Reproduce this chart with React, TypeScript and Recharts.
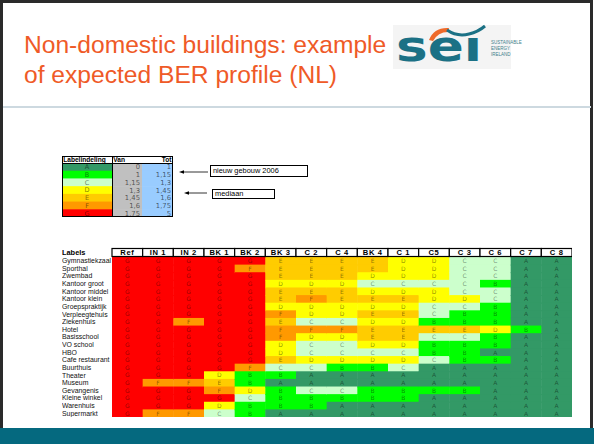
import React from 'react';
import { BarChart, Bar, XAxis, YAxis } from 'recharts';

// ---------- DATA ----------
const columns = ['Ref', 'IN 1', 'IN 2', 'BK 1', 'BK 2', 'BK 3', 'C 2', 'C 4', 'BK 4', 'C 1', 'C5', 'C 3', 'C 6', 'C 7', 'C 8'];
const buildings = [
  'Gymnastiekzaal', 'Sporthal', 'Zwembad', 'Kantoor groot', 'Kantoor middel', 'Kantoor klein',
  'Groepspraktijk', 'Verpleegtehuis', 'Ziekenhuis', 'Hotel', 'Basisschool', 'VO school', 'HBO',
  'Cafe restaurant', 'Buurthuis', 'Theater', 'Museum', 'Gevangenis', 'Kleine winkel', 'Warenhuis', 'Supermarkt',
];
// one string per building, one letter per column
const grades = [
  'GGGGGEEEEDDCCAA',
  'GGGGFEEEEDDCCAA',
  'GGGGGEEEDDDCCAA',
  'GGGGGDDDCCCCBAA',
  'GGGGGEEEDDDCCAA',
  'GGGGGEFEEEDDCAA',
  'GGGGGDDDDDCCBAA',
  'GGGGGFDDEECBBAA',
  'GGFGGECCDDBBBAA',
  'GGGGGFFFEEEEDBA',
  'GGGGGFDDEECCBAA',
  'GGGGGDCCDDBBBAA',
  'GGGGGDCCCCBBAAA',
  'GGGGGEDDDDCBBAA',
  'GGGGFCCBBCAAAAA',
  'GGGDBBAAAAAAAAA',
  'GFFEBAAAAAAAAAA',
  'GGGFDBCCBBBBAAA',
  'GGGGCBBBBBAAAAA',
  'GGGDBBBAAAAAAAA',
  'GFFCBAAAAAAAAAA',
];
const labelClasses = ['A', 'B', 'C', 'D', 'E', 'F', 'G'];
const vanValues = ['0', '1', '1,15', '1,3', '1,45', '1,6', '1,75'];
const totValues = ['1', '1,15', '1,3', '1,45', '1,6', '1,75', '5'];
const legendHeaders = ['Labelindeling', 'Van', 'Tot'];

// ---------- STYLE ----------
const GRADE_COLOR: Record<string, string> = {
  A: '#339966', B: '#00ff00', C: '#ccffcc', D: '#ffff00', E: '#ffcc00', F: '#ff9900', G: '#ff0000',
};
const VAN_FILL = '#c0c0c0';
const TOT_FILL = '#99ccff';
const FONT = 'Liberation Sans, Arial, sans-serif';
const TITLE_COLOR = '#ef5a27';
const TEAL = '#1b7185';

// layout of the heat map chart
const HM_W = 510;
const HM_H = 170;
const HM_YAXIS_W = 50;
const HM_XAXIS_H = 9;
const COL_W = (HM_W - HM_YAXIS_W) / columns.length;

// legend table column spans (layout, not data)
const LEG_SPANS = [50, 30, 31];
const LEG_TOTAL = LEG_SPANS[0] + LEG_SPANS[1] + LEG_SPANS[2];

const heatData = buildings.map((b, i) => {
  const row: any = { building: b };
  columns.forEach((_, j) => {
    row['v' + j] = 1;
    row['g' + j] = grades[i][j];
  });
  return row;
});

const legendData = labelClasses.map((c, i) => ({
  cls: c,
  van: vanValues[i],
  tot: totValues[i],
  s0: LEG_SPANS[0],
  s1: LEG_SPANS[1],
  s2: LEG_SPANS[2],
}));

const HeatCell = (p: any) => {
  const { x, y, width, height, payload, col } = p;
  const g = payload['g' + col];
  return (
    <g>
      <rect x={x} y={y} width={width + 0.5} height={height + 0.5} fill={GRADE_COLOR[g]} />
      <text
        x={x + width / 2}
        y={y + height / 2}
        dy="0.36em"
        textAnchor="middle"
        fontSize={6}
        fontFamily="DejaVu Sans, sans-serif"
        fill="#000"
        fillOpacity={0.45}
      >
        {g}
      </text>
    </g>
  );
};

const HeaderTick = (p: any) => {
  const idx = Math.floor(p.payload.value);
  return (
    <g>
      <rect
        x={p.x - COL_W / 2}
        y={p.y - HM_XAXIS_H + 0.5}
        width={COL_W}
        height={HM_XAXIS_H - 1}
        fill="#fff"
        stroke="#000"
        strokeWidth={1.2}
      />
      <text
        x={p.x}
        y={p.y - 2}
        textAnchor="middle"
        fontSize={7.6}
        fontWeight="bold"
        fontFamily={FONT}
        letterSpacing={0.6}
        fill="#000"
      >
        {columns[idx]}
      </text>
    </g>
  );
};

const RowTick = (p: any) => (
  <text x={p.x - HM_YAXIS_W} y={p.y} dy="0.35em" fontSize={6.9} fontFamily={FONT} fill="#111">
    {p.payload.value}
  </text>
);

const LegendCell = (p: any) => {
  const { x, y, width, height, payload, col } = p;
  if (col === 0) {
    return (
      <g>
        <rect x={x} y={y} width={width + 0.3} height={height + 0.3} fill={GRADE_COLOR[payload.cls]} />
        <text x={x + width / 2} y={y + height / 2} dy="0.36em" textAnchor="middle" fontSize={6.5}
          fontFamily="DejaVu Sans, sans-serif" fill="#000" fillOpacity={0.5}>
          {payload.cls}
        </text>
      </g>
    );
  }
  const txt = col === 1 ? payload.van : payload.tot;
  return (
    <g>
      <rect x={x} y={y} width={width + 0.3} height={height + 0.3} fill={col === 1 ? VAN_FILL : TOT_FILL} />
      <text x={x + width - 2} y={y + height / 2} dy="0.36em" textAnchor="end" fontSize={6.8}
        fontFamily="DejaVu Sans, sans-serif" fill="#000" fillOpacity={0.6}>
        {txt}
      </text>
    </g>
  );
};

const LegendHeaderTick = (p: any) => {
  const i = p.index;
  const anchor = i === 2 ? 'end' : 'start';
  const dx = i === 2 ? -1.5 : 1.2;
  return (
    <text x={p.x + dx} y={p.y - 1.2} textAnchor={anchor} fontSize={6.6} fontWeight="bold"
      fontFamily={FONT} fill="#000">
      {legendHeaders[i]}
    </text>
  );
};

export default function App() {
  return (
    <div style={{ position: 'absolute', left: 0, top: 0, width: 594, height: 444, background: '#fff', overflow: 'hidden', fontFamily: FONT }}>
      {/* slide decorations */}
      <svg width={594} height={444} style={{ position: 'absolute', left: 0, top: 0 }}>
        <rect x={0} y={0} width={594} height={444} fill="#fff" />
        <rect x={1.5} y={1.5} width={590} height={440} fill="none" stroke="#2a2a2a" strokeWidth={3} />
        <line x1={3} y1={107} x2={591} y2={107} stroke="#cdd9e0" strokeWidth={2} />
        <rect x={0} y={428} width={594} height={16} fill="#05697f" />
        {/* title */}
        <text x={24} y={53} fontSize={24.6} fontFamily={FONT} fill={TITLE_COLOR}>Non-domestic buildings: example</text>
        <text x={24} y={83} fontSize={24.6} fontFamily={FONT} fill={TITLE_COLOR}>of expected BER profile (NL)</text>
        {/* logo */}
        <rect x={393} y={25} width={118} height={44} fill="#f4f4f4" />
        <text x={396} y={61} fontSize={42} fontWeight="bold" fontFamily="DejaVu Sans, sans-serif" fill={TEAL}
          textLength={86} lengthAdjust="spacingAndGlyphs">seı</text>
        <path d="M429,40 Q434,27 449,28 L448,32 Q438,32 433,41 Z" fill="#ef6a2a" />
        <path d="M447,30 Q457,37 469,34 Q478,32 485,26" stroke={TEAL} strokeWidth={3} fill="none" />
        <text x={491} y={44} fontSize={4.5} fontFamily={FONT} fill="#3f7f8c">SUSTAINABLE</text>
        <text x={491} y={50} fontSize={4.5} fontFamily={FONT} fill="#3f7f8c">ENERGY</text>
        <text x={491} y={56} fontSize={4.5} fontFamily={FONT} fill="#3f7f8c">IRELAND</text>
        {/* annotation arrows */}
        <line x1={182} y1={172} x2={208} y2={172} stroke="#000" strokeWidth={0.8} />
        <path d="M179,172 L184,170.3 L184,173.7 Z" fill="#000" />
        <line x1={187} y1={193} x2={207} y2={193} stroke="#000" strokeWidth={0.8} />
        <path d="M184,193 L189,191.3 L189,194.7 Z" fill="#000" />
        {/* "Labels" header */}
        <text x={62} y={255} fontSize={7.4} fontWeight="bold" fontFamily={FONT} fill="#000">Labels</text>
      </svg>

      {/* annotation boxes */}
      <div style={{ position: 'absolute', left: 210, top: 165, width: 98, height: 12, boxSizing: 'border-box', border: '1px solid #000', background: '#fff', fontSize: 7.4, lineHeight: '10px', paddingLeft: 2, color: '#000' }}>nieuw gebouw 2006</div>
      <div style={{ position: 'absolute', left: 212, top: 189, width: 63, height: 10, boxSizing: 'border-box', border: '1px solid #000', background: '#fff', fontSize: 7.4, lineHeight: '8px', paddingLeft: 2, color: '#000' }}>mediaan</div>

      {/* legend table */}
      <div style={{ position: 'absolute', left: 62, top: 156 }}>
        <BarChart width={LEG_TOTAL} height={61} data={legendData} layout="vertical"
          margin={{ top: 0, right: 0, bottom: 0, left: 0 }} barCategoryGap={0} barGap={0}>
          <XAxis type="number" orientation="top" domain={[0, LEG_TOTAL]} height={7}
            ticks={[0, LEG_SPANS[0], LEG_TOTAL]} interval={0} tickSize={0} tickMargin={0}
            axisLine={false} tickLine={false} tick={LegendHeaderTick} allowDataOverflow />
          <YAxis type="category" dataKey="cls" hide />
          {[0, 1, 2].map((c) => (
            <Bar key={c} dataKey={'s' + c} stackId="leg" isAnimationActive={false}
              shape={(p: any) => <LegendCell {...p} col={c} />} />
          ))}
        </BarChart>
        {/* table borders */}
        <div style={{ position: 'absolute', left: 0, top: 0, width: LEG_TOTAL, height: 61, boxSizing: 'border-box', border: '1px solid #000', pointerEvents: 'none' }} />
        <div style={{ position: 'absolute', left: 0, top: 6.5, width: LEG_TOTAL, height: 1, background: '#000' }} />
        <div style={{ position: 'absolute', left: LEG_SPANS[0] - 0.5, top: 0, width: 1.5, height: 61, background: '#000' }} />
      </div>

      {/* heat map */}
      <div style={{ position: 'absolute', left: 62, top: 247 }}>
        <BarChart width={HM_W} height={HM_H} data={heatData} layout="vertical"
          margin={{ top: 1, right: 0, bottom: 0, left: 0 }} barCategoryGap={0} barGap={0}>
          <XAxis type="number" orientation="top" domain={[0, columns.length]} height={HM_XAXIS_H}
            ticks={columns.map((_, j) => j + 0.5)} interval={0} tickSize={0} tickMargin={0}
            axisLine={false} tickLine={false} tick={HeaderTick} allowDataOverflow />
          <YAxis type="category" dataKey="building" width={HM_YAXIS_W} interval={0} tickSize={0}
            tickMargin={0} axisLine={false} tickLine={false} tick={RowTick} />
          {columns.map((c, j) => (
            <Bar key={c} dataKey={'v' + j} stackId="hm" isAnimationActive={false}
              shape={(p: any) => <HeatCell {...p} col={j} />} />
          ))}
        </BarChart>
      </div>
    </div>
  );
}
